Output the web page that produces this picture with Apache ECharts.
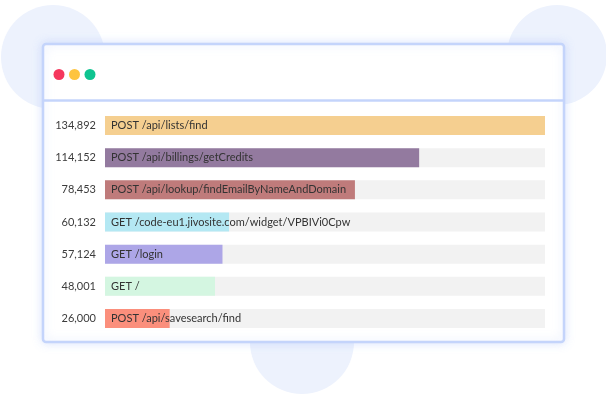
<!DOCTYPE html>
<html>
<head>
<meta charset="utf-8">
<style>
html,body{margin:0;padding:0;background:#ffffff;}
#chart{width:606px;height:394px;}
</style>
<script src="https://cdn.jsdelivr.net/npm/echarts@6/dist/echarts.min.js"></script>
</head>
<body>
<div id="chart"></div>
<script>
// Endpoints (categories), request counts (tick labels) and bar fill (% of track)
var endpoints = [
  'POST /api/lists/find',
  'POST /api/billings/getCredits',
  'POST /api/lookup/findEmailByNameAndDomain',
  'GET /code-eu1.jivosite.com/widget/VPBIVi0Cpw',
  'GET /login',
  'GET /',
  'POST /api/savesearch/find'
];
var counts = ['134,892', '114,152', '78,453', '60,132', '57,124', '48,001', '26,000'];
var fillPercent = [100, 71.4, 56.8, 28.2, 26.7, 25.0, 14.7];
var barColors = ['#f5cf90', '#937a9f', '#bf7b7b', '#b4e8f3', '#ada6e7', '#d4f6e1', '#fb8f7c'];

var chart = echarts.init(document.getElementById('chart'), null, {renderer: 'canvas'});

var FONT = 'Lato';

var option = {
  animation: false,
  backgroundColor: '#ffffff',
  graphic: [
    {type: 'circle', z: -20, shape: {cx: 53, cy: 57, r: 52}, style: {fill: '#edf2fd'}},
    {type: 'circle', z: -20, shape: {cx: 557, cy: 55, r: 50}, style: {fill: '#edf2fd'}},
    {type: 'circle', z: -20, shape: {cx: 302, cy: 342, r: 52}, style: {fill: '#edf2fd'}},
    {type: 'rect', z: -10, shape: {x: 43, y: 44, width: 521, height: 298, r: 3},
      style: {fill: '#ffffff', stroke: '#c4d4fb', lineWidth: 2.5, shadowBlur: 10, shadowColor: 'rgba(160,185,250,0.35)'}},
    {type: 'line', z: -9, shape: {x1: 43, y1: 100.5, x2: 564, y2: 100.5}, style: {stroke: '#c4d4fb', lineWidth: 2.5}},
    {type: 'circle', z: -9, shape: {cx: 59, cy: 74.5, r: 5.5}, style: {fill: '#f5375d'}},
    {type: 'circle', z: -9, shape: {cx: 74.5, cy: 74.5, r: 5.5}, style: {fill: '#fec43f'}},
    {type: 'circle', z: -9, shape: {cx: 90, cy: 74.5, r: 5.5}, style: {fill: '#0fc490'}}
  ],
  grid: {left: 105, right: 61, top: 109.4, bottom: 59.4, containLabel: false},
  xAxis: {type: 'value', min: 0, max: 100, show: false},
  yAxis: {
    type: 'category',
    inverse: true,
    data: endpoints,
    axisLine: {show: false},
    axisTick: {show: false},
    splitLine: {show: false},
    axisLabel: {
      margin: 9,
      color: '#3c3c3c',
      fontFamily: FONT,
      fontSize: 11,
      formatter: function (v, i) { return counts[i]; }
    }
  },
  series: [{
    type: 'bar',
    data: fillPercent.map(function (v, i) { return {value: v, itemStyle: {color: barColors[i]}}; }),
    barWidth: 19,
    showBackground: true,
    backgroundStyle: {color: '#f2f2f2'},
    label: {
      show: true,
      position: 'insideLeft',
      offset: [1, 0],
      color: '#333333',
      fontFamily: FONT,
      fontSize: 11,
      formatter: function (p) { return endpoints[p.dataIndex]; }
    }
  }]
};
chart.setOption(option);
</script>
</body>
</html>
